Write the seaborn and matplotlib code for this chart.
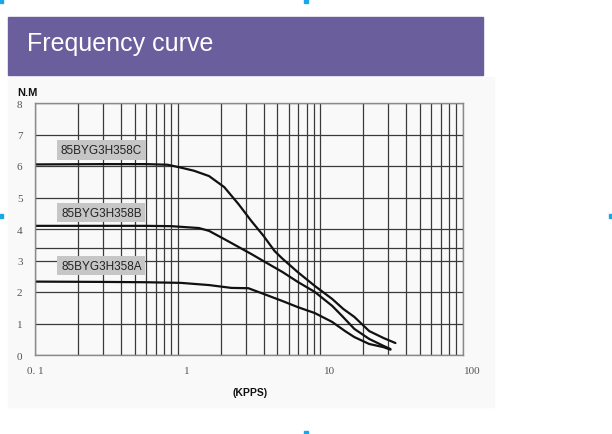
import numpy as np
import pandas as pd
import seaborn as sns
import matplotlib.pyplot as plt
from matplotlib.patches import Rectangle
from matplotlib.transforms import ScaledTranslation

# torque (N.M) vs pulse rate (KPPS)
freq_c = [0.1, 0.3, 0.6, 0.85, 1.05, 1.3, 1.66, 2.12, 2.67, 3.29, 4.0, 4.78, 5.45, 6.95, 9.16, 12.1, 14.5, 17.3, 22.0, 27.7, 33.6]
torque_c = [6.05, 6.06, 6.06, 6.04, 5.95, 5.85, 5.68, 5.33, 4.79, 4.25, 3.78, 3.30, 3.05, 2.63, 2.19, 1.78, 1.46, 1.21, 0.76, 0.54, 0.38]

freq_b = [0.1, 0.3, 0.6, 0.9, 1.05, 1.41, 1.66, 2.12, 2.67, 3.3, 4.0, 5.45, 6.95, 9.16, 12.1, 14.2, 17.3, 22.0, 27.7, 31.0]
torque_b = [4.1, 4.1, 4.1, 4.09, 4.07, 4.03, 3.94, 3.68, 3.43, 3.2, 2.98, 2.63, 2.32, 2.00, 1.56, 1.24, 0.83, 0.51, 0.29, 0.19]

freq_a = [0.1, 0.3, 0.6, 1.05, 1.66, 2.38, 3.13, 4.0, 5.45, 6.95, 9.16, 12.1, 14.9, 17.3, 22.0, 27.7, 31.0]
torque_a = [2.33, 2.32, 2.31, 2.29, 2.22, 2.13, 2.12, 1.94, 1.71, 1.52, 1.33, 1.05, 0.76, 0.57, 0.35, 0.25, 0.17]

models = ["85BYG3H358C", "85BYG3H358B", "85BYG3H358A"]
y_ticks = [0, 1, 2, 3, 4, 5, 6, 7, 8]
x_ticks = [0.1, 1, 10, 100]
x_ticklabels = ["0. 1", "1", "10", "100"]

df = pd.concat([
    pd.DataFrame({"kpps": freq_c, "torque": torque_c, "model": models[0]}),
    pd.DataFrame({"kpps": freq_b, "torque": torque_b, "model": models[1]}),
    pd.DataFrame({"kpps": freq_a, "torque": torque_a, "model": models[2]}),
])

sns.set_theme(style="white")
plt.rcParams['font.family'] = ['Liberation Sans', 'DejaVu Sans']

fig = plt.figure(figsize=(6.12, 4.35), dpi=100)
fig.patch.set_facecolor("white")

# light panel behind chart + purple banner
fig.patches.append(Rectangle((8 / 612, 1 - 408 / 435), 486 / 612, 330 / 435,
                             transform=fig.transFigure, color="#f9f9f9", zorder=-2))
fig.patches.append(Rectangle((8 / 612, 1 - 76 / 435), 475 / 612, 58 / 435,
                             transform=fig.transFigure, color="#6a5e9d", zorder=1))
fig.text(27 / 612, 1 - 44 / 435, "Frequency curve", color="white", fontsize=18,
         va="center", ha="left")

# small cyan handles at the borders
for hx, hy, hw, hh in [(0, 431, 3, 4), (304, 431, 4, 4), (0, 216, 3, 4),
                       (609, 216, 3, 4), (304, 0, 4, 3)]:
    fig.patches.append(Rectangle((hx / 612, hy / 435), hw / 612, hh / 435,
                                 transform=fig.transFigure, color="#1aa7e8", zorder=2))

ax = fig.add_axes([35 / 612, 1 - 356 / 435, 428 / 612, 252 / 435])
ax.set_facecolor("#f9f9f9")
ax.set_xscale("log")
ax.set_xlim(0.1, 100)
ax.set_ylim(0, 8)

ax.grid(True, which="both", axis="x", color="#3a3a3a", linewidth=0.9)
ax.grid(True, which="major", axis="y", color="#3a3a3a", linewidth=0.9)
ax.axhline(3.4, color="#3a3a3a", linewidth=0.9)
ax.set_axisbelow(True)

sns.lineplot(data=df, x="kpps", y="torque", hue="model", units="model", estimator=None,
             sort=False, palette=["#111111"] * 3, linewidth=1.6, legend=False, ax=ax)

for name, ypos in zip(models, [6.5, 4.52, 2.84]):
    ax.text(0.292, ypos, name, fontsize=8.5, color="#222222", ha="center", va="center",
            bbox=dict(boxstyle="square,pad=0.32", fc="#c6c6c6", ec="none"))

ax.set_xticks(x_ticks)
ax.set_xticklabels(x_ticklabels, family="Liberation Serif", fontsize=8, color="#555555")
ax.set_yticks(y_ticks)
ax.set_yticklabels([str(v) for v in y_ticks], family="Liberation Serif", fontsize=8, color="#555555")
ax.tick_params(axis="both", which="both", length=0, pad=9)
ax.tick_params(axis="x", pad=8)
off = ScaledTranslation(9 / 100, 0, fig.dpi_scale_trans)
for lbl in ax.get_xticklabels()[1:]:
    lbl.set_transform(lbl.get_transform() + off)
ax.set_xlabel("")
ax.set_ylabel("")
for s in ax.spines.values():
    s.set_color("#8a8a8a")
    s.set_linewidth(1.0)

fig.text(17 / 612, 1 - 93 / 435, "N.M", fontsize=8, fontweight="bold", va="center", color="#111111")
fig.text(250 / 612, 1 - 393 / 435, "(KPPS)", fontsize=7.5, fontweight="bold", ha="center",
         va="center", color="#111111")

fig.savefig("out.png", dpi=100)
